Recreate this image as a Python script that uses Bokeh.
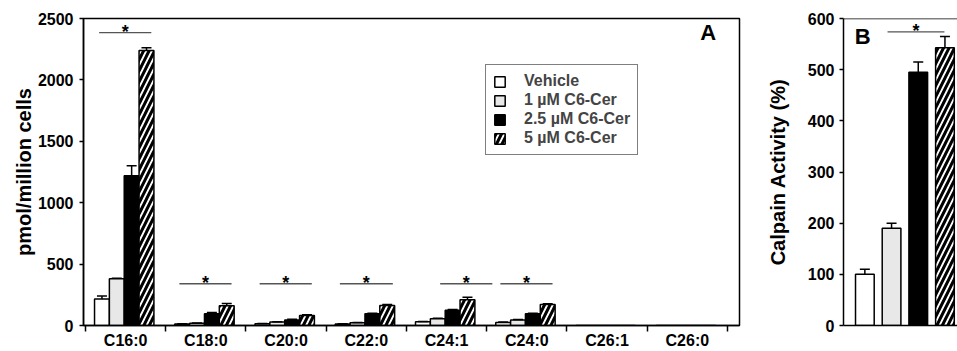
import numpy as np
from bokeh.plotting import figure
from bokeh.models import (Range1d, FixedTicker, ColumnDataSource, Whisker, TeeHead,
                          Legend, LegendItem, Span, Label)
from bokeh.layouts import row
from bokeh.embed import file_html
from bokeh.resources import INLINE
from bokeh.core.properties import value

# ---------------- data ----------------
categories = ["C16:0", "C18:0", "C20:0", "C22:0", "C24:1", "C24:0", "C26:1", "C26:0"]
series_names = ["Vehicle", "1 µM C6-Cer", "2.5 µM C6-Cer", "5 µM C6-Cer"]

vehicle = [215, 12, 15, 12, 30, 25, 0, 0]
c6_1 = [380, 18, 28, 22, 55, 45, 0, 0]
c6_25 = [1220, 95, 45, 95, 125, 95, 0, 0]
c6_5 = [2240, 160, 82, 163, 210, 170, 0, 0]

vehicle_err = [25, 2, 2, 2, 3, 3, 0, 0]
c6_1_err = [5, 2, 2, 3, 4, 4, 0, 0]
c6_25_err = [80, 10, 5, 5, 6, 5, 0, 0]
c6_5_err = [22, 20, 6, 8, 20, 7, 0, 0]

# significance bars (panel A): category index, start offset, end offset, level
sig_cat = [0, 1, 2, 3, 4, 5]
sig_start = [0.17, 0.17, 0.17, 0.17, 0.42, 0.17]
sig_end = [0.82, 0.82, 0.82, 0.83, 1.07, 0.82]
sig_level = [2385, 340, 340, 340, 340, 340]

y_ticks_a = [0, 500, 1000, 1500, 2000, 2500]

# panel B
calpain = [100, 190, 495, 543]
calpain_err = [10, 10, 20, 22]
sig_b_start = [1.85]
sig_b_end = [3.98]
sig_b_level = [574]
y_ticks_b = [0, 100, 200, 300, 400, 500, 600]

# ---------------- styles ----------------
FONT = "Liberation Sans"
fills = ["white", "#e8e8e8", "black", "white"]
hatches = [" ", " ", " ", "/"]
offsets = [0.205, 0.39, 0.575, 0.76]
bar_w = 0.185

def style_axes(p):
    p.grid.visible = False
    for ax in (p.xaxis + p.yaxis):
        ax.axis_line_width = 1.5
        ax.axis_line_color = "black"
        ax.major_tick_line_width = 1.5
        ax.minor_tick_line_width = 1.5
        ax.major_tick_in = 0
        ax.minor_tick_in = 0
        ax.major_label_text_font = FONT
        ax.major_label_text_font_style = "bold"
        ax.major_label_text_font_size = "16px"
        ax.major_label_text_color = "black"
        ax.axis_label_text_font = FONT
        ax.axis_label_text_font_style = "bold"
        ax.axis_label_text_font_size = "20px"
        ax.axis_label_text_color = "black"

# ---------------- panel A ----------------
pA = figure(width=760, height=351, x_range=Range1d(-0.025, 8.15), y_range=Range1d(0, 2500),
            output_backend="svg", toolbar_location=None,
            min_border_left=83, min_border_right=21, min_border_top=18, min_border_bottom=26)
style_axes(pA)
pA.outline_line_color = "black"
pA.outline_line_width = 1.5
pA.background_fill_color = "white"

pA.xaxis.ticker = FixedTicker(ticks=[i + 0.5 for i in range(len(categories))],
                              minor_ticks=list(range(len(categories) + 1)))
pA.xaxis.major_label_overrides = {i + 0.5: c for i, c in enumerate(categories)}
pA.xaxis.major_tick_out = 0
pA.xaxis.minor_tick_out = 6
pA.xaxis.major_label_standoff = 0
pA.yaxis.ticker = FixedTicker(ticks=y_ticks_a, minor_ticks=[])
pA.yaxis.major_tick_out = 4
pA.yaxis.major_label_standoff = 6
pA.yaxis.axis_label = "pmol/million cells"
pA.yaxis.axis_label_standoff = 0

idx = np.arange(len(categories))
series = [vehicle, c6_1, c6_25, c6_5]
errs = [vehicle_err, c6_1_err, c6_25_err, c6_5_err]
items = []
for s, (vals, err) in enumerate(zip(series, errs)):
    xs = idx + offsets[s]
    src = ColumnDataSource(dict(x=xs, top=vals))
    r = pA.vbar(x="x", top="top", width=bar_w, source=src, fill_color=fills[s],
                line_color="black", line_width=1.5,
                hatch_pattern=hatches[s], hatch_color="black", hatch_scale=11, hatch_weight=3)
    items.append(LegendItem(label=series_names[s], renderers=[r]))
    vals_a = np.array(vals, dtype=float)
    err_a = np.array(err, dtype=float)
    m = err_a > 0
    esrc = ColumnDataSource(dict(x=xs[m], lower=vals_a[m], upper=vals_a[m] + err_a[m]))
    w = Whisker(source=esrc, base="x", lower="lower", upper="upper", dimension="height",
                line_color="black", line_width=1.5,
                upper_head=TeeHead(size=10, line_width=1.5, line_color="black"),
                lower_head=None, level="overlay")
    pA.add_layout(w)

# significance lines + stars
sc = np.array(sig_cat, dtype=float)
x0 = sc + np.array(sig_start)
x1 = sc + np.array(sig_end)
pA.segment(x0=x0, y0=sig_level, x1=x1, y1=sig_level, line_color="#555555", line_width=1.3)
pA.text(x=(x0 + x1) / 2, y=sig_level, text=["*"] * len(sig_cat), text_align="center",
        text_baseline="alphabetic", text_font=value(FONT), text_font_style="bold",
        text_font_size="18px", text_color="black", y_offset=-1)

legend = Legend(items=items, location=(402, 170))
legend.border_line_color = "black"
legend.border_line_width = 1.5
legend.background_fill_color = "white"
legend.background_fill_alpha = 1
legend.label_text_font = FONT
legend.label_text_font_style = "bold"
legend.label_text_font_size = "16px"
legend.label_height = 18
legend.glyph_width = 13
legend.glyph_height = 13
legend.label_standoff = 18
legend.spacing = 1
legend.padding = 7
legend.margin = 0
pA.add_layout(legend)

pA.add_layout(Label(x=7.66, y=2285, text="A", text_font=FONT, text_font_style="bold",
                    text_font_size="22px", text_color="black"))

# ---------------- panel B ----------------
pB = figure(width=197, height=351, x_range=Range1d(0.2, 4.47), y_range=Range1d(0, 600),
            output_backend="svg", toolbar_location=None,
            min_border_left=83, min_border_right=0, min_border_top=18, min_border_bottom=26)
style_axes(pB)
pB.outline_line_color = None
pB.xaxis.ticker = FixedTicker(ticks=[], minor_ticks=[])
pB.yaxis.ticker = FixedTicker(ticks=y_ticks_b, minor_ticks=[])
pB.yaxis.major_tick_out = 4
pB.yaxis.major_label_standoff = 5
pB.yaxis.axis_label = "Calpain Activity (%)"
pB.yaxis.axis_label_standoff = 16
pB.add_layout(Span(location=600, dimension="width", line_color="black", line_width=1.5))

xb = np.arange(1, len(calpain) + 1)
for s in range(len(calpain)):
    pB.vbar(x=[xb[s]], top=[calpain[s]], width=0.7, fill_color=fills[s], line_color="black",
            line_width=1.5, hatch_pattern=hatches[s], hatch_color="black",
            hatch_scale=11, hatch_weight=3)
cb = np.array(calpain, dtype=float)
bsrc = ColumnDataSource(dict(x=xb, lower=cb, upper=cb + np.array(calpain_err)))
pB.add_layout(Whisker(source=bsrc, base="x", lower="lower", upper="upper", dimension="height",
                      line_color="black", line_width=1.5,
                      upper_head=TeeHead(size=10, line_width=1.5, line_color="black"),
                      lower_head=None, level="overlay"))
pB.segment(x0=sig_b_start, y0=sig_b_level, x1=sig_b_end, y1=sig_b_level,
           line_color="#555555", line_width=1.3)
pB.text(x=[(a + b) / 2 for a, b in zip(sig_b_start, sig_b_end)], y=sig_b_level, text=["*"],
        text_align="center", text_baseline="alphabetic", text_font=value(FONT),
        text_font_style="bold", text_font_size="18px", text_color="black", y_offset=-1)
pB.add_layout(Label(x=0.62, y=540, text="B", text_font=FONT, text_font_style="bold",
                    text_font_size="22px", text_color="black"))

layout = row(pA, pB, spacing=0)
open("out.html", "w").write(file_html(layout, INLINE))
